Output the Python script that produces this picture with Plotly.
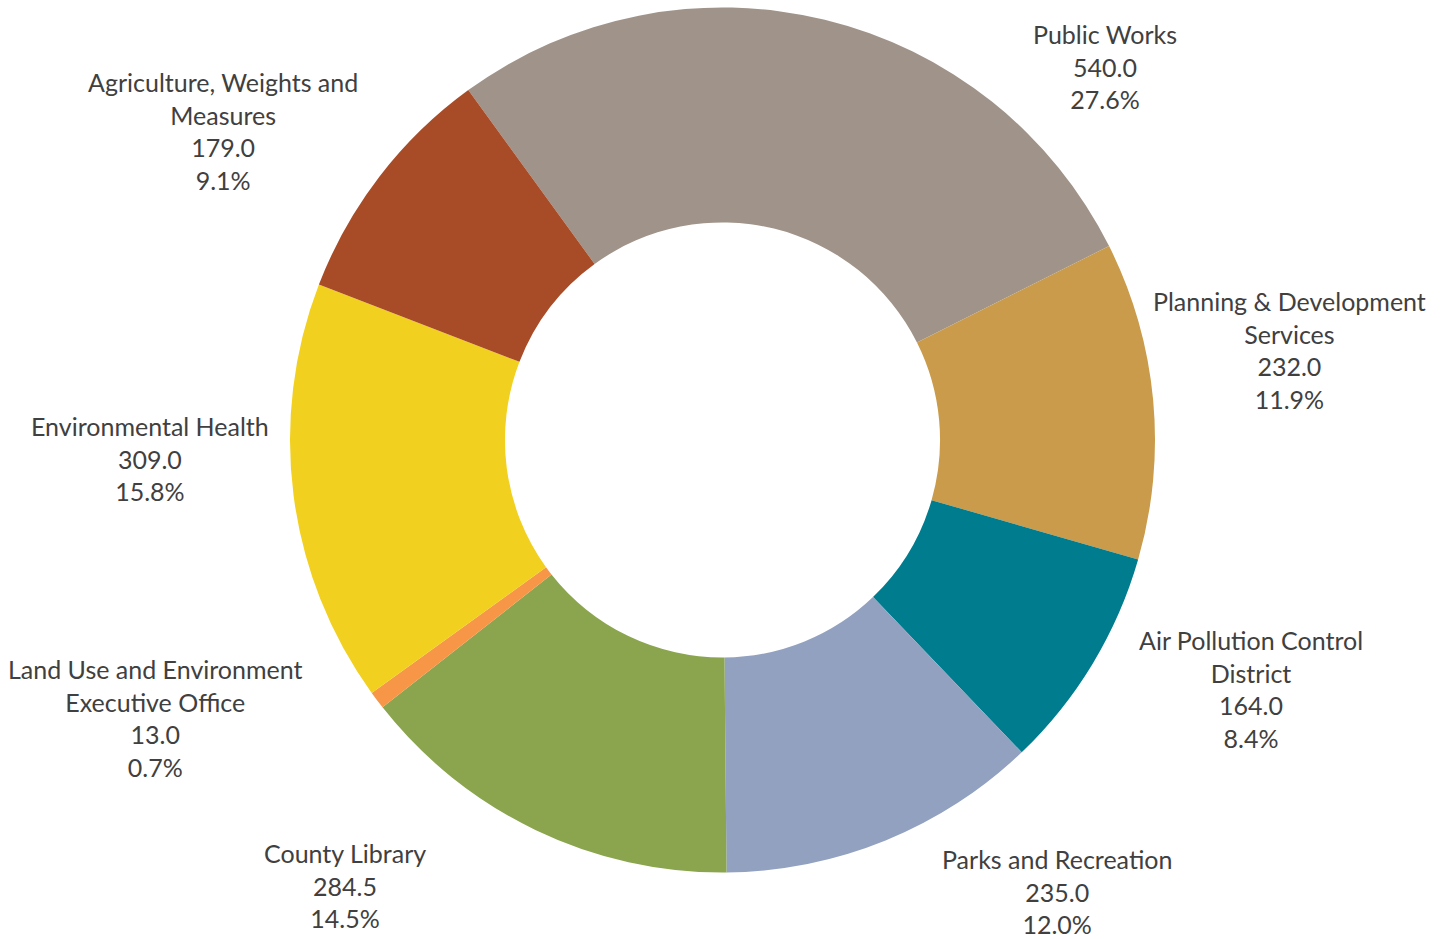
import plotly.graph_objects as go

# Department budgets (clockwise from Public Works)
departments = [
    "Public Works",
    "Planning & Development Services",
    "Air Pollution Control District",
    "Parks and Recreation",
    "County Library",
    "Land Use and Environment Executive Office",
    "Environmental Health",
    "Agriculture, Weights and Measures",
]
label_lines = [
    "Public Works",
    "Planning & Development<br>Services",
    "Air Pollution Control<br>District",
    "Parks and Recreation",
    "County Library",
    "Land Use and Environment<br>Executive Office",
    "Environmental Health",
    "Agriculture, Weights and<br>Measures",
]
amounts = [540.0, 232.0, 164.0, 235.0, 284.5, 13.0, 309.0, 179.0]

colors = ["#A09389", "#C99B4A", "#007C8F", "#91A1BF",
          "#8AA54E", "#F79646", "#F2D01F", "#A84C28"]

# Label block centres in pixels (x, y) on a 1446x939 canvas
W, H = 1446, 939
label_pos = [
    (1105, 66), (1289, 350), (1251, 689), (1057, 891),
    (345, 885), (155, 718), (150, 458), (223, 131),
]

total = sum(amounts)
cx, cy, r = 722.5, 440.0, 432.5

fig = go.Figure(go.Pie(
    labels=departments,
    values=amounts,
    hole=0.503,
    sort=False,
    direction="clockwise",
    rotation=-36.0,
    marker=dict(colors=colors, line=dict(width=0)),
    textinfo="none",
    hoverinfo="label+value+percent",
    showlegend=False,
    domain=dict(x=[(cx - r) / W, (cx + r) / W],
                y=[1 - (cy + r) / H, 1 - (cy - r) / H]),
))

for name, val, (px, py) in zip(label_lines, amounts, label_pos):
    fig.add_annotation(
        x=px / W, y=1 - py / H, xref="paper", yref="paper",
        xanchor="center", yanchor="middle", showarrow=False,
        text=f"{name}<br>{val:.1f}<br>{val / total * 100:.1f}%",
        font=dict(family="Lato", size=25, color="#404040"),
        align="center",
    )

fig.update_layout(
    width=W, height=H,
    margin=dict(l=0, r=0, t=0, b=0),
    paper_bgcolor="white",
    plot_bgcolor="white",
)

fig.write_html("out.html")
